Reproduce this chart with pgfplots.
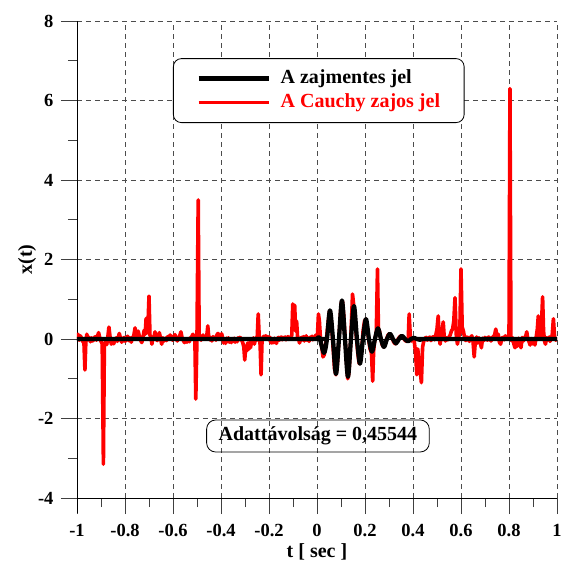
\documentclass[border=0pt]{standalone}
\usepackage{fontspec}
\setmainfont{Liberation Serif}
\usepackage{pgfplots}
\pgfplotsset{compat=1.18}
\pgfplotstableread{
t v
-1.000 0.05
-0.996 0.12
-0.991 -0.03
-0.986 0.08
-0.981 0.02
-0.976 -0.06
-0.971 -0.10
-0.967 -0.78
-0.963 -0.04
-0.959 0.12
-0.954 -0.02
-0.949 0.04
-0.944 -0.07
-0.939 0.03
-0.934 -0.05
-0.929 0.02
-0.924 0.06
-0.919 -0.03
-0.914 0.08
-0.910 0.16
-0.905 0.03
-0.900 -0.06
-0.895 -0.12
-0.890 -3.15
-0.886 -0.18
-0.881 -0.07
-0.876 -0.14
-0.871 0.08
-0.867 0.30
-0.862 0.04
-0.857 -0.13
-0.852 -0.05
-0.847 -0.12
-0.842 -0.02
-0.837 0.03
-0.832 -0.06
-0.828 0.04
-0.824 0.14
-0.819 0.03
-0.814 -0.08
-0.809 -0.03
-0.804 0.04
-0.799 -0.06
-0.794 0.02
-0.789 0.07
-0.784 -0.04
-0.779 0.03
-0.774 -0.08
-0.769 0.04
-0.764 0.06
-0.758 0.28
-0.753 0.05
-0.749 0.02
-0.745 0.20
-0.740 0.06
-0.735 -0.03
-0.730 -0.09
-0.725 0.05
-0.720 0.22
-0.716 0.12
-0.712 0.52
-0.708 0.15
-0.704 0.40
-0.700 1.08
-0.696 0.10
-0.692 0.04
-0.688 -0.13
-0.684 0.02
-0.679 0.06
-0.675 0.18
-0.671 0.03
-0.666 -0.04
-0.661 0.05
-0.657 0.16
-0.652 0.02
-0.647 -0.13
-0.642 0.03
-0.637 -0.05
-0.632 0.02
-0.627 -0.04
-0.622 0.06
-0.617 0.03
-0.612 0.10
-0.607 0.04
-0.602 -0.03
-0.597 0.06
-0.592 0.11
-0.587 0.02
-0.582 -0.05
-0.577 0.03
-0.572 0.08
-0.567 0.18
-0.562 0.03
-0.557 -0.04
-0.552 -0.09
-0.547 -0.02
-0.542 -0.08
-0.537 0.01
-0.532 -0.07
-0.527 0.03
-0.522 0.06
-0.517 0.12
-0.513 0.02
-0.509 0.05
-0.505 -1.51
-0.500 0.08
-0.495 3.50
-0.491 0.10
-0.487 0.04
-0.483 -0.03
-0.479 0.05
-0.475 0.10
-0.470 0.02
-0.465 0.06
-0.460 0.03
-0.455 0.33
-0.451 0.05
-0.447 -0.02
-0.443 0.04
-0.438 -0.05
-0.433 0.06
-0.429 0.01
-0.425 0.05
-0.421 -0.03
-0.417 0.10
-0.413 0.14
-0.409 0.08
-0.405 0.12
-0.401 0.05
-0.397 0.13
-0.393 0.02
-0.389 -0.10
-0.385 -0.04
-0.381 -0.11
-0.377 0.02
-0.373 -0.06
-0.369 0.03
-0.365 -0.08
-0.361 -0.03
-0.357 -0.09
-0.353 0.01
-0.349 -0.06
-0.345 0.02
-0.341 -0.08
-0.337 -0.02
-0.333 -0.07
-0.329 0.03
-0.325 -0.02
-0.321 0.04
-0.317 0.02
-0.313 -0.04
-0.309 -0.10
-0.305 -0.20
-0.301 -0.53
-0.297 -0.18
-0.293 -0.30
-0.289 -0.10
-0.285 -0.26
-0.281 -0.08
-0.277 -0.22
-0.273 -0.05
-0.269 -0.12
-0.265 0.03
-0.261 -0.13
-0.257 0.02
-0.253 -0.04
-0.249 0.05
-0.245 0.63
-0.241 0.10
-0.237 -0.15
-0.233 -0.90
-0.229 -0.05
-0.225 0.03
-0.221 0.07
-0.217 0.02
-0.213 0.08
-0.209 0.04
-0.205 0.06
-0.201 -0.02
-0.197 0.05
-0.193 -0.08
-0.189 -0.10
-0.185 -0.02
-0.181 -0.09
-0.177 0.02
-0.173 -0.06
-0.169 -0.11
-0.165 0.01
-0.161 0.04
-0.157 -0.03
-0.153 0.03
-0.149 0.05
-0.145 -0.02
-0.141 0.04
-0.137 0.01
-0.133 0.05
-0.129 -0.02
-0.125 0.03
-0.121 0.06
-0.117 -0.01
-0.113 0.04
-0.109 0.03
-0.105 0.10
-0.101 0.88
-0.097 0.30
-0.093 0.85
-0.089 0.20
-0.085 0.45
-0.081 0.05
-0.077 0.02
-0.073 -0.10
-0.069 -0.03
-0.065 0.04
-0.061 -0.02
-0.057 0.06
-0.053 -0.05
-0.049 0.03
-0.045 0.08
-0.041 -0.03
-0.037 0.02
-0.033 -0.06
-0.029 0.04
-0.025 0.02
-0.021 0.07
-0.017 -0.02
-0.013 0.05
-0.009 0.03
-0.005 0.10
-0.002 0.04
0.002 0.10
0.006 0.63
0.010 0.45
0.014 0.05
0.020 -0.20
0.025 -0.45
0.030 -0.40
0.036 -0.15
0.041 0.10
0.047 0.45
0.052 0.70
0.057 0.60
0.062 0.25
0.068 -0.30
0.073 -0.75
0.079 -0.90
0.084 -0.70
0.090 -0.15
0.096 0.45
0.101 0.90
0.106 0.95
0.112 0.55
0.117 0.00
0.123 -0.55
0.128 -1.00
0.133 -0.85
0.139 -0.25
0.144 0.50
0.148 1.13
0.153 0.85
0.158 0.55
0.164 0.05
0.170 -0.35
0.176 -0.62
0.181 -0.55
0.187 -0.20
0.192 0.20
0.198 0.45
0.204 0.50
0.209 0.30
0.215 0.00
0.221 -0.25
0.227 -0.35
0.232 -1.06
0.236 -0.30
0.241 0.00
0.247 0.15
0.252 1.76
0.256 0.25
0.260 0.20
0.266 0.00
0.272 -0.15
0.278 -0.20
0.284 -0.12
0.290 0.00
0.296 0.10
0.302 0.13
0.308 0.08
0.314 0.00
0.320 -0.08
0.326 -0.12
0.332 -0.08
0.338 0.00
0.344 0.05
0.350 0.08
0.356 0.05
0.362 0.00
0.368 -0.04
0.374 -0.06
0.380 -0.02
0.384 0.63
0.389 0.05
0.394 -0.05
0.400 0.02
0.405 -0.05
0.410 -0.30
0.416 -0.90
0.420 -0.25
0.425 -0.60
0.430 -0.80
0.435 -1.10
0.440 -0.20
0.445 -0.05
0.450 0.02
0.455 0.04
0.460 -0.03
0.465 0.02
0.470 0.05
0.475 -0.04
0.480 0.03
0.485 0.06
0.490 -0.02
0.495 0.10
0.500 0.25
0.505 0.58
0.509 0.05
0.513 -0.13
0.517 0.04
0.521 0.20
0.526 0.43
0.530 0.06
0.535 -0.05
0.540 0.03
0.545 -0.02
0.550 0.05
0.555 0.10
0.560 0.20
0.565 0.25
0.570 0.45
0.575 1.04
0.580 0.12
0.585 -0.13
0.590 0.05
0.595 0.15
0.600 1.76
0.605 0.30
0.610 0.20
0.615 0.03
0.620 -0.04
0.625 0.05
0.630 0.02
0.635 -0.06
0.640 0.04
0.645 0.08
0.650 -0.05
0.655 -0.45
0.660 -0.03
0.665 0.05
0.670 -0.10
0.675 0.03
0.680 -0.08
0.685 -0.22
0.690 0.02
0.695 -0.04
0.700 0.04
0.705 0.01
0.710 -0.03
0.715 0.05
0.720 0.02
0.725 -0.05
0.730 0.03
0.735 0.06
0.740 0.10
0.745 0.25
0.750 0.05
0.755 0.12
0.760 -0.08
0.765 -0.13
0.770 0.02
0.775 0.04
0.780 -0.02
0.785 0.08
0.790 0.02
0.795 0.06
0.800 0.05
0.804 6.30
0.808 0.02
0.812 -0.05
0.816 0.03
0.820 -0.12
0.825 -0.22
0.830 -0.06
0.835 -0.18
0.840 0.02
0.845 -0.10
0.850 -0.22
0.855 0.04
0.860 -0.05
0.865 0.03
0.870 0.08
0.874 0.18
0.878 0.02
0.883 -0.06
0.888 -0.15
0.893 0.01
0.898 -0.12
0.903 -0.03
0.908 -0.15
0.913 0.04
0.918 0.25
0.922 0.58
0.927 0.10
0.931 0.05
0.935 0.30
0.940 1.06
0.944 0.20
0.948 -0.05
0.952 -0.13
0.957 0.03
0.962 -0.02
0.967 0.05
0.971 -0.06
0.976 0.02
0.980 0.10
0.985 0.51
0.990 0.05
0.995 -0.03
1.000 0.04
}\noisy
\pgfplotstableread{
t v
-1.0000 0
-0.0250 0
-0.0125 0
0.0000 0
0.0100 0.04
0.0290 -0.35
0.0415 0
0.0540 0.72
0.0665 0
0.0790 -0.88
0.0915 0
0.1040 0.97
0.1165 0
0.1290 -0.95
0.1415 0
0.1540 0.83
0.1665 0
0.1790 -0.62
0.1915 0
0.2040 0.50
0.2165 0
0.2290 -0.32
0.2415 0
0.2540 0.27
0.2665 0
0.2790 -0.20
0.2915 0
0.3040 0.13
0.3165 0
0.3290 -0.11
0.3415 0
0.3540 0.08
0.3665 0
0.3790 -0.06
0.3915 0
0.4040 0.03
0.4165 0
0.4290 -0.02
0.4415 0
0.4540 0
1.0000 0
}\clean
\begin{document}
\begin{tikzpicture}
\path[use as bounding box] (-77pt,-65pt) rectangle (484pt,498pt);
\begin{axis}[
  scale only axis, width=480pt, height=477pt,
  at={(0pt,0pt)}, anchor=south west,
  xmin=-1, xmax=1, ymin=-4, ymax=8,
  axis lines=left,
  axis line style={-, line width=0.8pt, black},
  y axis line style={shorten <=-15pt},
  xtick={-1,-0.8,-0.6,-0.4,-0.2,0,0.2,0.4,0.6,0.8,1},
  xticklabels={-1,-0.8,-0.6,-0.4,-0.2,0,0.2,0.4,0.6,0.8,1},
  ytick={-4,-2,0,2,4,6,8},
  yticklabels={-4,-2,0,2,4,6,8},
  minor x tick num=1, minor y tick num=1,
  tick align=outside,
  major tick length=16pt, minor tick length=9pt,
  tick style={black!75, line width=0.8pt},
  xmajorgrids, ymajorgrids,
  grid style={black!70, line width=0.7pt, dash pattern=on 5pt off 4pt},
  ticklabel style={font=\fontsize{18.5}{18.5}\selectfont\bfseries},
  xticklabel style={yshift=-7pt},
  yticklabel style={xshift=-4pt},
  xlabel={t [ sec ]}, ylabel={x(t)},
  label style={font=\fontsize{20}{20}\selectfont\bfseries},
  xlabel style={at={(axis description cs:0.5,-0.113)}, anchor=center},
  ylabel style={at={(axis description cs:-0.104,0.5)}, anchor=center},
  reverse legend,
  legend cell align=left,
  legend image code/.code={\draw[#1] (0pt,0pt) -- (70pt,0pt);},
  legend style={at={(0.2,0.922)}, anchor=north west, draw=black, line width=0.8pt,
    rounded corners=8pt, fill=white, inner xsep=23pt, inner ysep=10pt,
    font=\fontsize{20}{20}\selectfont\bfseries, row sep=4pt, column sep=9pt,
    nodes={inner sep=1pt, text height=14pt, text depth=4pt}},
]
\addplot[red, line width=3.6pt, line join=round] table[x=t, y=v] {\noisy};
\addlegendentry{\textcolor{red}{A Cauchy zajos jel}}
\addplot[black, line width=0.6pt, forget plot] coordinates {(-1,0) (1,0)};
\addplot[black, line width=4.3pt, smooth, line join=round] table[x=t, y=v] {\clean};
\addlegendentry{A zajmentes jel}
\node[draw, rounded corners=9pt, line width=0.8pt, inner xsep=12pt, inner ysep=7pt,
  text height=14pt, text depth=4pt,
  font=\fontsize{20}{20}\selectfont\bfseries] at (axis cs:0.004,-2.44) {Adattávolság = 0,45544};
\end{axis}
\end{tikzpicture}
\end{document}
